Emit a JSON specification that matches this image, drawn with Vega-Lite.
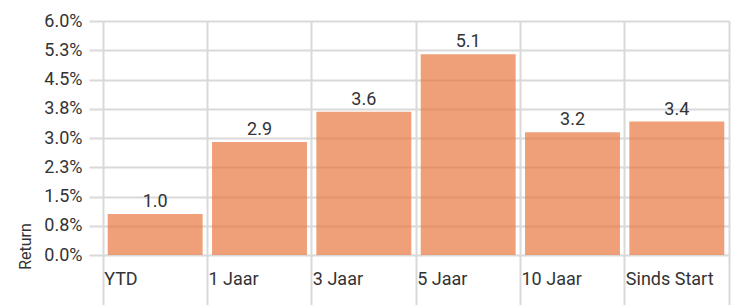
{
  "$schema": "https://vega.github.io/schema/vega-lite/v6.json",
  "width": 626,
  "height": 234,
  "autosize": {"type": "none"},
  "padding": {"left": 103, "top": 21, "right": 15, "bottom": 50},
  "config": {
    "view": {"stroke": null},
    "font": "Roboto",
    "axis": {"labelFont": "Roboto", "titleFont": "Roboto", "labelColor": "#333333", "titleColor": "#333333", "gridColor": "#d9d9d9", "tickColor": "#d9d9d9", "gridWidth": 2, "tickWidth": 2, "domain": false, "labelOverlap": false}
  },
  "data": {
    "values": [
      {"period": "YTD", "value": 1.05, "label": "1.0"},
      {"period": "1 Jaar", "value": 2.9, "label": "2.9"},
      {"period": "3 Jaar", "value": 3.67, "label": "3.6"},
      {"period": "5 Jaar", "value": 5.15, "label": "5.1"},
      {"period": "10 Jaar", "value": 3.15, "label": "3.2"},
      {"period": "Sinds Start", "value": 3.42, "label": "3.4"}
    ]
  },
  "encoding": {
    "x": {
      "field": "period",
      "type": "nominal",
      "sort": null,
      "scale": {"paddingInner": 0, "paddingOuter": 0}
    }
  },
  "layer": [
    {
      "mark": {"type": "bar", "width": {"band": 0.91}, "color": "#E8773E", "opacity": 0.7},
      "encoding": {
        "x": {
          "field": "period",
          "type": "nominal",
          "sort": null,
          "axis": {
            "title": null,
            "bandPosition": 0,
            "grid": true,
            "ticks": true,
            "tickSize": 50,
            "labelAngle": 0,
            "labelAlign": "left",
            "labelBaseline": "alphabetic",
            "labelPadding": -21,
            "labelFontSize": 18,
            "labelOffset": -51
          }
        },
        "y": {
          "field": "value",
          "type": "quantitative",
          "scale": {"domain": [0, 6], "nice": false},
          "axis": {
            "title": "Return",
            "titleFontSize": 16,
            "titleFontWeight": "normal",
            "titleAngle": 270,
            "titleAlign": "center",
            "titleBaseline": "middle",
            "titleX": -78,
            "titleY": 225,
            "values": [0, 0.75, 1.5, 2.25, 3, 3.75, 4.5, 5.25, 6],
            "tickCount": 20,
            "labelExpr": "format(datum.value, '.1f') + '%'",
            "labelFontSize": 18,
            "labelOverlap": false,
            "tickSize": 14,
            "labelPadding": 7,
            "grid": true
          }
        }
      }
    },
    {
      "mark": {"type": "text", "baseline": "alphabetic", "dy": -7, "fontSize": 18, "color": "#333333", "font": "Roboto"},
      "encoding": {
        "x": {
          "field": "period",
          "type": "nominal",
          "sort": null,
          "axis": {
            "orient": "bottom",
            "title": null,
            "values": ["Sinds Start"],
            "bandPosition": 1,
            "grid": true,
            "ticks": true,
            "tickSize": 50,
            "labels": false
          }
        },
        "y": {"field": "value", "type": "quantitative"},
        "text": {"field": "label"}
      }
    }
  ],
  "resolve": {"axis": {"x": "independent"}}
}
